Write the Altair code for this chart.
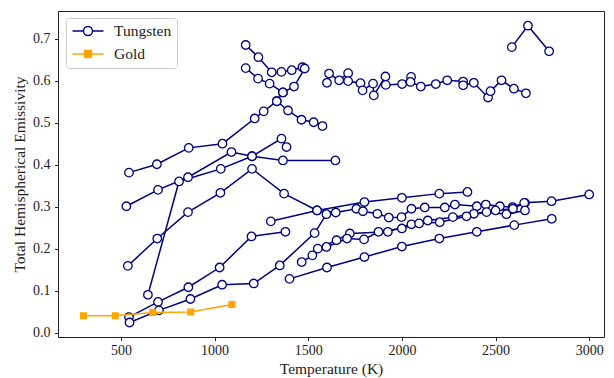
import altair as alt
import pandas as pd

NAVY = "#000080"
ORANGE = "#FFA500"
FONT = "Liberation Serif"

# ---- Gold ----
GOLD_T = [300, 470, 670, 873, 1093]
GOLD_E = [0.040, 0.040, 0.048, 0.049, 0.067]

# ---- Tungsten (several measurement series) ----
W01_T = [1166, 1234, 1305, 1357, 1412, 1469]
W01_E = [0.685, 0.656, 0.620, 0.621, 0.625, 0.632]

W02_T = [1166, 1232, 1294, 1365, 1424, 1481]
W02_E = [0.630, 0.605, 0.593, 0.572, 0.586, 0.629]

W03_T = [543, 692, 862, 1042, 1214, 1262, 1332, 1365]
W03_E = [0.381, 0.401, 0.440, 0.450, 0.510, 0.527, 0.551, 0.572]

W04_T = [1332, 1392, 1464, 1529, 1576]
W04_E = [0.551, 0.529, 0.507, 0.501, 0.492]

W05_T = [529, 698, 858, 1090, 1200, 1365, 1645]
W05_E = [0.301, 0.340, 0.370, 0.430, 0.420, 0.410, 0.410]

W06_T = [644, 810, 1033, 1200, 1357, 1384]
W06_E = [0.090, 0.360, 0.390, 0.420, 0.462, 0.442]

W07_T = [537, 694, 858, 1031, 1200, 1371, 1547, 1647, 1757, 1792, 1869,
         1930, 1998, 2051, 2122, 2229, 2283, 2400, 2448, 2523, 2591, 2657]
W07_E = [0.159, 0.224, 0.287, 0.333, 0.390, 0.331, 0.291, 0.286, 0.295, 0.289, 0.283,
         0.274, 0.275, 0.295, 0.298, 0.298, 0.305, 0.301, 0.305, 0.301, 0.299, 0.309]

W08_T = [543, 698, 860, 1027, 1197, 1378]
W08_E = [0.037, 0.073, 0.108, 0.155, 0.229, 0.240]

W09_T = [546, 703, 871, 1040, 1209, 1348, 1534, 1597]
W09_E = [0.024, 0.053, 0.080, 0.114, 0.117, 0.160, 0.237, 0.282]

W10_T = [1300, 1547, 1800, 2000, 2200, 2350]
W10_E = [0.265, 0.291, 0.311, 0.321, 0.331, 0.335]

W11_T = [1400, 1600, 1800, 2000, 2200, 2400, 2600, 2800]
W11_E = [0.128, 0.155, 0.180, 0.205, 0.224, 0.240, 0.256, 0.271]

W12_T = [1551, 1651, 1722, 1925, 2051, 2138, 2272, 2384, 2500, 2593, 2653, 2799, 3000]
W12_E = [0.200, 0.220, 0.236, 0.240, 0.258, 0.267, 0.275, 0.283, 0.291, 0.295, 0.309, 0.313, 0.329]

W13_T = [1465, 1522, 1597, 1707, 1798, 1875, 2000, 2092, 2202, 2345, 2452, 2558, 2657]
W13_E = [0.168, 0.184, 0.204, 0.224, 0.222, 0.240, 0.248, 0.260, 0.263, 0.277, 0.287, 0.282, 0.291]

W14_T = [1600, 1611, 1665, 1713, 1713, 1779, 1790, 1846, 1850, 1912, 1914, 2001, 2049,
         2046, 2101, 2181, 2242, 2327, 2327, 2384, 2460, 2473, 2532, 2598, 2662]
W14_E = [0.595, 0.617, 0.601, 0.618, 0.599, 0.594, 0.577, 0.593, 0.565, 0.610, 0.590, 0.592, 0.609,
         0.597, 0.586, 0.592, 0.601, 0.598, 0.589, 0.595, 0.560, 0.575, 0.601, 0.581, 0.570]

W15_T = [2587, 2673, 2786]
W15_E = [0.680, 0.731, 0.670]

TUNGSTEN = {
    "w01": (W01_T, W01_E), "w02": (W02_T, W02_E), "w03": (W03_T, W03_E),
    "w04": (W04_T, W04_E), "w05": (W05_T, W05_E), "w06": (W06_T, W06_E),
    "w07": (W07_T, W07_E), "w08": (W08_T, W08_E), "w09": (W09_T, W09_E),
    "w10": (W10_T, W10_E), "w11": (W11_T, W11_E), "w12": (W12_T, W12_E),
    "w13": (W13_T, W13_E), "w14": (W14_T, W14_E), "w15": (W15_T, W15_E),
}

X_TICKS = [500, 1000, 1500, 2000, 2500, 3000]
Y_TICKS = [0.0, 0.1, 0.2, 0.3, 0.4, 0.5, 0.6, 0.7]
MATERIALS = ["Tungsten", "Gold"]

rows = []
for name, (ts, es) in TUNGSTEN.items():
    for i, (t, e) in enumerate(zip(ts, es)):
        rows.append({"series": name, "idx": i, "T": t, "E": e})
dfw = pd.DataFrame(rows)
dfg = pd.DataFrame({"T": GOLD_T, "E": GOLD_E, "idx": list(range(len(GOLD_T)))})
dfl = pd.DataFrame({"material": MATERIALS, "T": [1000, 1000], "E": [0.5, 0.5]})

xs = alt.Scale(domain=[164, 3079], nice=False, zero=False)
ys = alt.Scale(domain=[-0.0105, 0.766], nice=False, zero=False)

X = alt.X("T:Q", scale=xs, axis=alt.Axis(values=X_TICKS, title="Temperature (K)",
                                          labelPadding=3, titlePadding=4, format="d"))
Y = alt.Y("E:Q", scale=ys, axis=alt.Axis(values=Y_TICKS, format=".1f",
                                          title="Total Hemispherical Emissivity",
                                          labelPadding=4.5, titlePadding=5))

w_line = alt.Chart(dfw).mark_line(color=NAVY, strokeWidth=1.5).encode(
    x=X, y=Y, detail="series:N", order="idx:Q")
w_pts = alt.Chart(dfw).mark_circle(fill="white", stroke=NAVY, strokeWidth=1.3,
                                   size=72, opacity=1).encode(x=X, y=Y)
g_line = alt.Chart(dfg).mark_line(color=ORANGE, strokeWidth=1.5).encode(
    x=X, y=Y, order="idx:Q")
g_pts = alt.Chart(dfg).mark_square(color=ORANGE, size=50, opacity=1).encode(x=X, y=Y)

# legend glyphs: a line with a marker on it (symbol size 14 px -> unit = 7 px)
PATH_W = "M-2.21,0L-0.64,0M0.64,0L2.21,0M-0.64,0A0.64,0.64,0,1,1,0.64,0A0.64,0.64,0,1,1,-0.64,0Z"
PATH_G = "M-2.21,0L2.21,0M-0.5,-0.5L0.5,-0.5L0.5,0.5L-0.5,0.5Z"

leg = alt.Legend(title=None, orient="none", legendX=8, legendY=7, padding=5,
                 fillColor="white", strokeColor="#cccccc", cornerRadius=3,
                 labelFont=FONT, labelFontSize=15.5, labelColor="#222222",
                 labelOffset=18, symbolOffset=9, symbolSize=196, symbolStrokeWidth=1.4,
                 rowPadding=6)

legend_layer = alt.Chart(dfl).transform_filter("false").mark_point(
    size=196, strokeWidth=1.4, opacity=1, filled=False).encode(
    x=X, y=Y,
    color=alt.Color("material:N", scale=alt.Scale(domain=MATERIALS, range=[NAVY, ORANGE]), legend=leg),
    fill=alt.Fill("material:N", scale=alt.Scale(domain=MATERIALS, range=["white", ORANGE]), legend=leg),
    shape=alt.Shape("material:N", scale=alt.Scale(domain=MATERIALS, range=[PATH_W, PATH_G]), legend=leg),
)

chart = alt.layer(w_line, w_pts, g_line, g_pts, legend_layer).properties(
    width=546, height=326,
    autosize=alt.AutoSizeParams(type="none"),
    padding={"left": 50, "top": 3, "right": 2, "bottom": 41},
).configure_view(stroke="#222222", strokeWidth=1).configure_axis(
    domain=False, grid=False, tickColor="#222222", tickSize=3.5, tickWidth=1,
    labelFont=FONT, labelFontSize=14, labelColor="#222222",
    titleFont=FONT, titleFontSize=15.5, titleFontWeight="normal", titleColor="#222222",
).configure_legend(symbolStrokeWidth=1.4, labelFont=FONT, labelFontSize=15.5,
                   labelColor="#222222")

chart.save("out.html", embed_options={"renderer": "svg", "actions": False})
